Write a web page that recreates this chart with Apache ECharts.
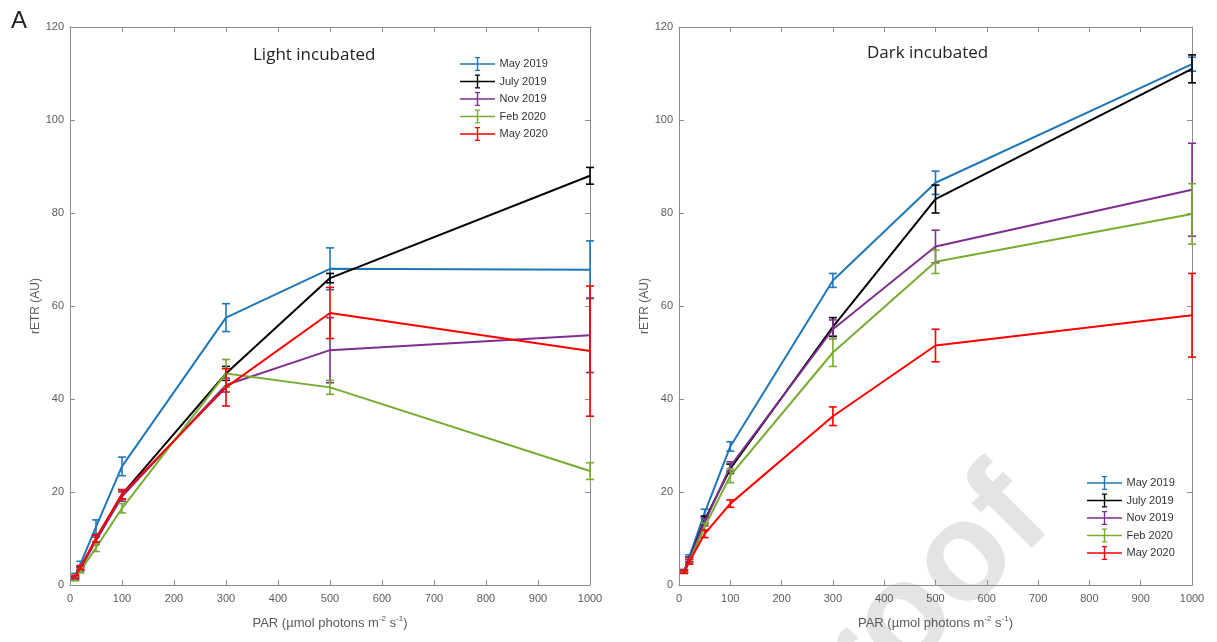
<!DOCTYPE html>
<html>
<head>
<meta charset="utf-8">
<script src="https://cdn.jsdelivr.net/npm/echarts@6/dist/echarts.min.js"></script>
<style>
  html, body { margin: 0; padding: 0; background: #fff; }
  #main { width: 1217px; height: 642px; }
</style>
</head>
<body>
<div id="main"></div>
<script>
// PAR levels of the rapid light curve
const parLevels = [10, 20, 50, 100, 300, 500, 1000];
const seriesNames = ['May 2019', 'July 2019', 'Nov 2019', 'Feb 2020', 'May 2020'];
const seriesColors = ['#1f77b8', '#000000', '#7e2f8e', '#77ac30', '#ff0000'];

// light incubated: means and error bars
const lightMay2019 = [2.0, 4.5, 12.5, 25.5, 57.5, 68.0, 67.8];
const lightMay2019Err = [0.5, 0.6, 1.5, 2.0, 3.0, 4.5, 6.2];
const lightJul2019 = [1.5, 3.5, 10.0, 19.5, 45.5, 66.0, 88.0];
const lightJul2019Err = [0.3, 0.4, 0.8, 1.0, 1.5, 1.0, 1.8];
const lightNov2019 = [1.5, 3.5, 9.5, 19.0, 43.0, 50.5, 53.7];
const lightNov2019Err = [0.3, 0.4, 0.8, 1.0, 1.5, 7.0, 8.0];
const lightFeb2020 = [1.2, 3.0, 8.0, 16.5, 45.5, 42.5, 24.5];
const lightFeb2020Err = [0.3, 0.4, 0.8, 1.0, 3.0, 1.5, 1.8];
const lightMay2020 = [1.8, 3.8, 10.0, 19.5, 42.5, 58.5, 50.3];
const lightMay2020Err = [0.3, 0.4, 0.8, 1.0, 4.0, 5.5, 14.0];

// dark incubated: means and error bars
const darkMay2019 = [3.0, 6.0, 15.5, 29.8, 65.5, 86.5, 112.0];
const darkMay2019Err = [0.3, 0.5, 0.8, 1.0, 1.5, 2.5, 1.5];
const darkJul2019 = [3.0, 5.5, 14.0, 25.0, 55.5, 83.0, 111.0];
const darkJul2019Err = [0.3, 0.5, 0.8, 1.0, 2.0, 3.0, 3.0];
const darkNov2019 = [3.0, 5.5, 13.5, 25.5, 55.0, 72.8, 85.0];
const darkNov2019Err = [0.3, 0.5, 0.8, 1.0, 2.0, 3.5, 10.0];
const darkFeb2020 = [2.8, 5.0, 12.5, 23.5, 50.0, 69.5, 79.8];
const darkFeb2020Err = [0.3, 0.5, 0.8, 1.5, 3.0, 2.5, 6.5];
const darkMay2020 = [2.8, 5.0, 11.0, 17.5, 36.3, 51.5, 58.0];
const darkMay2020Err = [0.3, 0.5, 0.8, 0.8, 2.0, 3.5, 9.0];

const lightMeans = [lightMay2019, lightJul2019, lightNov2019, lightFeb2020, lightMay2020];
const lightErrs = [lightMay2019Err, lightJul2019Err, lightNov2019Err, lightFeb2020Err, lightMay2020Err];
const darkMeans = [darkMay2019, darkJul2019, darkNov2019, darkFeb2020, darkMay2020];
const darkErrs = [darkMay2019Err, darkJul2019Err, darkNov2019Err, darkFeb2020Err, darkMay2020Err];

const axisGray = '#8c8c8c';
const labelGray = '#5a5a5a';
const fontFam = '"Liberation Sans", Arial, sans-serif';

// legend icon: line with an error bar through it
const errIcon = 'path://M0,7.2h40v1.6h-40z M19.2,1h1.6v14h-1.6z M17,0h6v1.4h-6z M17,14.6h6v1.4h-6z';

function frameAxis(gi, pos, isX, showLabel) {
  const ax = {
    type: 'value', gridIndex: gi, position: pos,
    min: 0, max: isX ? 1000 : 120, interval: isX ? 100 : 20,
    axisLine: { show: true, onZero: false, lineStyle: { color: axisGray, width: 1 } },
    axisTick: { show: true, inside: true, length: 5, lineStyle: { color: axisGray } },
    splitLine: { show: false },
    axisLabel: { show: showLabel, color: labelGray, fontSize: 11, fontFamily: fontFam,
      margin: isX ? 8 : 6, formatter: v => String(v) }
  };
  if (showLabel && isX) {
    ax.name = 'PAR (µmol photons m{sup|-2} s{sup|-1})';
    ax.nameLocation = 'middle';
    ax.nameGap = 30;
    ax.nameTextStyle = {
      color: labelGray, fontSize: 13, fontFamily: fontFam,
      rich: { sup: { fontSize: 8, verticalAlign: 'top', padding: [0, 0, 8, 0], color: labelGray } }
    };
  }
  if (showLabel && !isX) {
    ax.name = 'rETR (AU)';
    ax.nameLocation = 'middle';
    ax.nameGap = 27;
    ax.nameRotate = 90;
    ax.nameTextStyle = { color: labelGray, fontSize: 12, fontFamily: fontFam };
  }
  return ax;
}

function errorBarItem(params, api) {
  const x = api.value(0);
  const lo = api.coord([x, api.value(1)]);
  const hi = api.coord([x, api.value(2)]);
  const cap = 4;
  const style = { stroke: api.visual('color'), lineWidth: 1.6 };
  return {
    type: 'group',
    children: [
      { type: 'line', shape: { x1: lo[0], y1: lo[1], x2: hi[0], y2: hi[1] }, style: style },
      { type: 'line', shape: { x1: lo[0] - cap, y1: lo[1], x2: lo[0] + cap, y2: lo[1] }, style: style },
      { type: 'line', shape: { x1: hi[0] - cap, y1: hi[1], x2: hi[0] + cap, y2: hi[1] }, style: style }
    ]
  };
}

function buildSeries(means, errs, xi, yi) {
  const out = [];
  means.forEach((vals, k) => {
    out.push({
      name: seriesNames[k], type: 'line', xAxisIndex: xi, yAxisIndex: yi,
      data: parLevels.map((p, i) => [p, vals[i]]),
      symbol: 'none', color: seriesColors[k],
      lineStyle: { width: 2, color: seriesColors[k] }, z: 3 + k
    });
    out.push({
      name: seriesNames[k], type: 'custom', xAxisIndex: xi, yAxisIndex: yi,
      renderItem: errorBarItem, color: seriesColors[k],
      encode: { x: 0, y: [1, 2] },
      data: parLevels.map((p, i) => [p, vals[i] - errs[k][i], vals[i] + errs[k][i]]),
      z: 3 + k
    });
  });
  return out;
}

function legendAt(left, top) {
  return {
    orient: 'vertical', left: left, top: top, itemGap: 3.5, itemWidth: 40, itemHeight: 14,
    icon: errIcon,
    data: seriesNames,
    textStyle: { color: '#333', fontSize: 11, fontFamily: fontFam, padding: [0, 0, 0, -3] }
  };
}

const chart = echarts.init(document.getElementById('main'));
chart.setOption({
  backgroundColor: '#fff',
  animation: false,
  title: [
    { text: 'A', left: 6, top: 4, textStyle: { fontSize: 24, fontWeight: 'normal', color: '#222', fontFamily: fontFam } },
    { text: 'Light incubated', left: 248, top: 42, textStyle: { fontSize: 17, fontWeight: 'normal', color: '#222', fontFamily: '"Open Sans", sans-serif' } },
    { text: 'Dark incubated', left: 862, top: 40, textStyle: { fontSize: 17, fontWeight: 'normal', color: '#222', fontFamily: '"Open Sans", sans-serif' } }
  ],
  graphic: [{
    type: 'text', z: -10, silent: true,
    x: 1028, y: 497, rotation: Math.PI / 4,
    style: { text: 'Journal Pre-proof', fontSize: 140, fontFamily: '"Liberation Sans", Arial, sans-serif', fontWeight: 'bold', fill: '#e4e4e4', align: 'right', verticalAlign: 'middle' }
  }],
  legend: [legendAt(455, 52), legendAt(1082, 471)],
  grid: [
    { left: 70, top: 27, width: 520, bottom: 57 },
    { left: 679, top: 27, width: 513, bottom: 57 }
  ],
  xAxis: [
    frameAxis(0, 'bottom', true, true), frameAxis(0, 'top', true, false),
    frameAxis(1, 'bottom', true, true), frameAxis(1, 'top', true, false)
  ],
  yAxis: [
    frameAxis(0, 'left', false, true), frameAxis(0, 'right', false, false),
    frameAxis(1, 'left', false, true), frameAxis(1, 'right', false, false)
  ],
  series: [].concat(
    buildSeries(lightMeans, lightErrs, 0, 0),
    buildSeries(darkMeans, darkErrs, 2, 2)
  )
});
</script>
</body>
</html>
